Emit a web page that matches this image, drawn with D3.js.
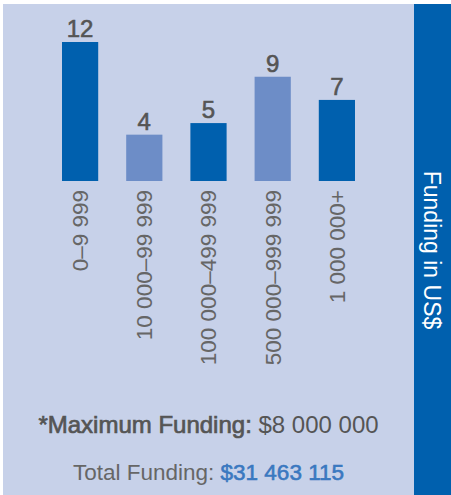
<!DOCTYPE html>
<html>
<head>
<meta charset="utf-8">
<script src="https://cdn.jsdelivr.net/npm/d3@7"></script>
<style>
    body { margin: 0; background: #fff; }
    svg { display: block; }
</style>
</head>
<body>
<svg id="chart"></svg>
<script>
// funding ranges and number of projects in each
const categories = ["0\u20139 999", "10 000\u201399 999", "100 000\u2013499 999", "500 000\u2013999 999", "1 000 000+"];
const counts = [12, 4, 5, 9, 7];
const maxFunding = "$8 000 000";
const totalFunding = "$31 463 115";

const width = 451, height = 495;
const dark = "#0060ae", light = "#6d8dc7", panel = "#c7d1e9";
const font = "'Liberation Sans', Arial, Helvetica, sans-serif";

const svg = d3.select("#chart")
    .attr("width", width)
    .attr("height", height);

// background panel + side band
svg.append("rect")
    .attr("x", 3).attr("y", 4)
    .attr("width", 411).attr("height", height - 4)
    .attr("fill", panel);

svg.append("rect")
    .attr("x", 414).attr("y", 4)
    .attr("width", width - 414).attr("height", height - 4)
    .attr("fill", dark);

svg.append("text")
    .attr("transform", "translate(432, 250) rotate(90)")
    .attr("text-anchor", "middle")
    .attr("dy", "0.35em")
    .attr("font-family", font)
    .attr("font-size", "23px")
    .attr("fill", "#fff")
    .text("Funding in US$");

const x = d3.scaleBand()
    .domain(categories)
    .range([62, 355])
    .paddingInner(0.436)
    .paddingOuter(0);

const y = d3.scaleLinear()
    .domain([0, 12])
    .range([181, 42]);

const bars = svg.selectAll(".bar")
    .data(categories.map((c, i) => ({ name: c, value: counts[i], i })))
    .enter().append("g")
    .attr("class", "bar");

bars.append("rect")
    .attr("x", d => x(d.name))
    .attr("y", d => y(d.value))
    .attr("width", x.bandwidth())
    .attr("height", d => y(0) - y(d.value))
    .attr("fill", d => d.i % 2 ? light : dark);

// medium-weight look: regular face with a thin stroke
bars.append("text")
    .attr("x", d => x(d.name) + x.bandwidth() / 2)
    .attr("y", d => y(d.value) - 5)
    .attr("text-anchor", "middle")
    .attr("font-family", font)
    .attr("font-size", "24px")
    .attr("fill", "#555")
    .attr("stroke", "#555")
    .attr("stroke-width", 0.6)
    .text(d => d.value);

// category labels, rotated, hanging below the bars
bars.append("text")
    .attr("transform", d => `translate(${x(d.name) + x.bandwidth() / 2}, 190) rotate(-90)`)
    .attr("dy", "0.35em")
    .attr("text-anchor", "end")
    .attr("font-family", font)
    .attr("font-size", "22.5px")
    .attr("fill", "#666")
    .text(d => d.name);

const maxText = svg.append("text")
    .attr("x", 208.5).attr("y", 433)
    .attr("text-anchor", "middle")
    .attr("font-family", font)
    .attr("font-size", "24px")
    .attr("fill", "#555");
maxText.append("tspan")
    .attr("stroke", "#555").attr("stroke-width", 0.7)
    .text("*Maximum Funding: ");
maxText.append("tspan").text(maxFunding);

const totText = svg.append("text")
    .attr("x", 208.5).attr("y", 480)
    .attr("text-anchor", "middle")
    .attr("font-family", font)
    .attr("font-size", "22.5px")
    .attr("fill", "#666");
totText.append("tspan").text("Total Funding: ");
totText.append("tspan")
    .attr("fill", "#3a78c0")
    .attr("stroke", "#3a78c0").attr("stroke-width", 0.6)
    .text(totalFunding);
</script>
</body>
</html>
